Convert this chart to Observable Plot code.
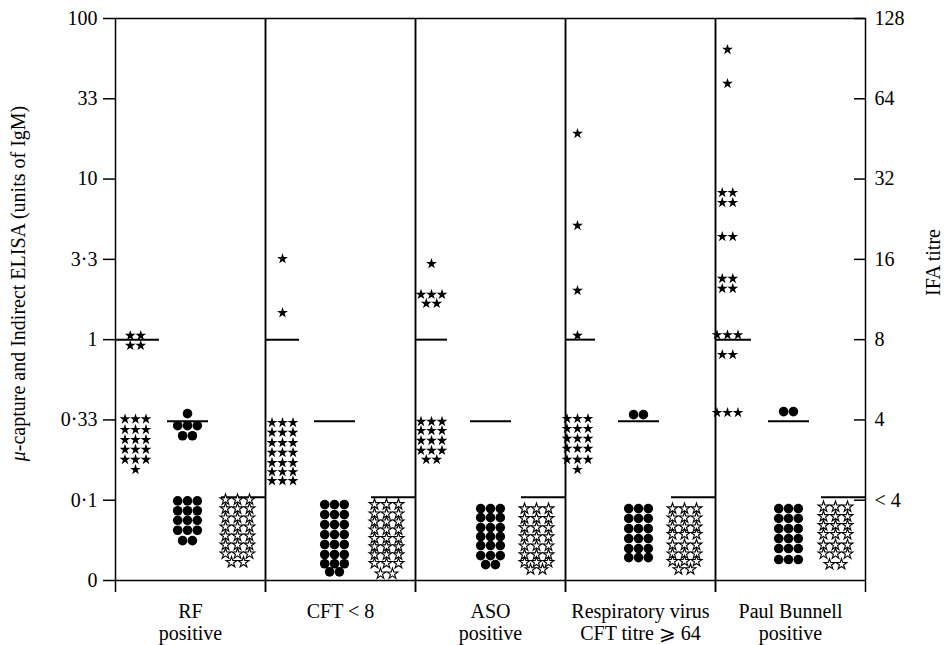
<!DOCTYPE html>
<html><head><meta charset="utf-8">
<script src="https://cdn.jsdelivr.net/npm/d3@7"></script>
<script src="https://cdn.jsdelivr.net/npm/@observablehq/plot@0.6"></script>
<style>body{margin:0;background:#fff;} svg{display:block}</style>
</head><body><div id="chart"></div>
<script>
// ---- categories ----
const panels = ["RF\npositive", "CFT < 8", "ASO\npositive", "Respiratory virus\nCFT titre ⩾ 64", "Paul Bunnell\npositive"];

// ---- axis ticks ----
const elisaTicks = [100, 10 ** 1.5, 10, 10 ** 0.5, 1, 10 ** -0.5, 0.1, 10 ** -1.5];
const elisaTickLabels = ["100", "33", "10", "3·3", "1", "0·33", "0·1", "0"];
const ifaTicks = [128, 64, 32, 16, 8, 4, 2];
const ifaTickLabels = ["128", "64", "32", "16", "8", "4", "< 4"];

// ---- cut-off levels ----
const muCutoff = 1;          // µ-capture ELISA (units of IgM)
const indirectCutoff = 0.31; // indirect ELISA (units of IgM)
const ifaCutoff = 2.05;      // IFA titre (<4 level)

// ---- µ-capture ELISA (filled stars): [value, number of sera] ----
const rfMu   = [[1.06, 2], [0.92, 2], [0.32, 3], [0.275, 3], [0.238, 3], [0.207, 3], [0.179, 3], [0.155, 1]];
const cftMu  = [[3.19, 1], [1.47, 1], [0.304, 3], [0.264, 3], [0.228, 3], [0.198, 3], [0.171, 3], [0.150, 3], [0.132, 3]];
const asoMu  = [[2.97, 1], [1.91, 3], [1.68, 2], [0.309, 3], [0.271, 3], [0.235, 3], [0.204, 3], [0.179, 2]];
const respMu = [[19.2, 1], [5.13, 1], [2.02, 1], [1.06, 1], [0.322, 3], [0.279, 3], [0.242, 3], [0.210, 3], [0.179, 3], [0.155, 1]];
const pbMu   = [[64, 1], [39.3, 1], [8.23, 2], [7.13, 2], [4.38, 2], [2.40, 2], [2.08, 2], [1.07, 3], [0.806, 2], [0.351, 3]];

// ---- indirect ELISA (filled circles): [value, number of sera] ----
const rfInd   = [[0.346, 1], [0.291, 3], [0.252, 2], [0.099, 3], [0.086, 3], [0.075, 3], [0.065, 3], [0.056, 2]];
const cftInd  = [[0.094, 3], [0.0814, 3], [0.0705, 3], [0.0611, 3], [0.053, 3], [0.0459, 3], [0.0402, 3], [0.0358, 2]];
const asoInd  = [[0.0887, 3], [0.0779, 3], [0.0675, 3], [0.0593, 3], [0.0522, 3], [0.0452, 3], [0.0397, 2]];
const respInd = [[0.341, 2], [0.0887, 3], [0.077, 3], [0.0665, 3], [0.0577, 3], [0.05, 3], [0.0439, 3]];
const pbInd   = [[0.356, 2], [0.0887, 3], [0.077, 3], [0.0665, 3], [0.0577, 3], [0.05, 3], [0.0427, 3]];

// ---- IFA titre (open stars): [titre, number of sera] ----
const rfIfa   = [[2.01, 3], [1.86, 3], [1.72, 3], [1.59, 3], [1.47, 3], [1.36, 3], [1.26, 3], [1.17, 2]];
const cftIfa  = [[1.93, 3], [1.78, 3], [1.66, 3], [1.55, 3], [1.44, 3], [1.34, 3], [1.25, 3], [1.16, 3], [1.06, 2]];
const asoIfa  = [[1.86, 3], [1.71, 3], [1.58, 3], [1.46, 3], [1.35, 3], [1.25, 3], [1.17, 3], [1.10, 2]];
const respIfa = [[1.86, 3], [1.72, 3], [1.59, 3], [1.49, 3], [1.36, 3], [1.26, 3], [1.18, 3], [1.10, 2]];
const pbIfa   = [[1.89, 3], [1.74, 3], [1.61, 3], [1.49, 3], [1.36, 3], [1.26, 3], [1.15, 2]];

// ---- build ----
const muRows = [rfMu, cftMu, asoMu, respMu, pbMu];
const indRows = [rfInd, cftInd, asoInd, respInd, pbInd];
const ifaRows = [rfIfa, cftIfa, asoIfa, respIfa, pbIfa];

// IFA titre -> position on the ELISA scale (128 ↔ 100, 8 ↔ 1, 2 ↔ 0·1)
const ifaToElisa = t => 10 ** ((Math.log2(t) - 3) / 2);

// layout of the dot columns inside each panel (x units: 0..15 per panel)
const layout = {
  mu:  {center: [2.0, 1.7, 1.6, 1.2, 1.2], step: 1.05},
  ind: {center: [7.2, 6.9, 7.5, 7.3, 7.3], step: 0.98},
  ifa: {center: [12.2, 12.1, 12.1, 11.9, 12.0], step: 1.2}
};
const muLineEnd = [4.4, 3.4, 3.2, 3.0, 3.6];

function expand(rowsByPanel, kind, toY) {
  const out = [];
  rowsByPanel.forEach((rows, p) => {
    const c = layout[kind].center[p], s = layout[kind].step;
    for (const [v, n] of rows) {
      for (let j = 0; j < n; j++) {
        out.push({panel: panels[p], x: c + (j - (n - 1) / 2) * s, y: toY(v)});
      }
    }
  });
  return out;
}
const muDots = expand(muRows, "mu", v => v);
const indDots = expand(indRows, "ind", v => v);
const ifaDots = expand(ifaRows, "ifa", ifaToElisa);

const cutLines = [];
panels.forEach((panel, p) => {
  cutLines.push({panel, y: muCutoff, x1: 0, x2: muLineEnd[p]});
  cutLines.push({panel, y: indirectCutoff, x1: layout.ind.center[p] - 2.0, x2: layout.ind.center[p] + 2.1});
  cutLines.push({panel, y: ifaToElisa(ifaCutoff), x1: 10.6, x2: 15});
});

const rightVals = ifaTicks.map(ifaToElisa);
const leftLabels = elisaTicks.map((v, i) => ({v, label: elisaTickLabels[i]}));
const rightLabels = rightVals.map((v, i) => ({v, label: ifaTickLabels[i]}));

const leftTitle = "μ-capture and Indirect ELISA (units of IgM)";
const rightTitle = "IFA titre";

const chart = Plot.plot({
  width: 945, height: 645,
  marginLeft: 115, marginRight: 80, marginTop: 18, marginBottom: 65,
  style: {fontFamily: '"Liberation Serif", "Times New Roman", serif', fontSize: "20px", color: "black", background: "white"},
  fx: {domain: panels, padding: 0, axis: null},
  x: {domain: [0, 15], axis: null},
  y: {type: "log", domain: [10 ** -1.5, 100], axis: null},
  marks: [
    Plot.ruleY([100, 10 ** -1.5], {stroke: "black", strokeWidth: 1.5}),
    Plot.ruleX([0, 15], {stroke: "black", strokeWidth: 1.5, insetBottom: -12}),
    Plot.ruleY(cutLines, {fx: "panel", y: "y", x1: "x1", x2: "x2", stroke: "black", strokeWidth: 2}),
    Plot.dot(muDots, {fx: "panel", x: "x", y: "y", symbol: "star", r: 3.4, fill: "black", stroke: "none"}),
    Plot.dot(indDots, {fx: "panel", x: "x", y: "y", symbol: "circle", r: 4.8, fill: "black", stroke: "none"}),
    Plot.dot(ifaDots, {fx: "panel", x: "x", y: "y", symbol: "star", r: 3.4, fill: "white", stroke: "black", strokeWidth: 1.1}),
    // axis ticks (labels drawn as text marks below)
    Plot.axisY({anchor: "left", ticks: elisaTicks, tickFormat: () => "", tickSize: 12, strokeWidth: 1.5, label: null}),
    Plot.axisY({anchor: "right", ticks: rightVals, tickFormat: () => "", tickSize: -12, strokeWidth: 1.5, label: null}),
    Plot.text(leftLabels, {fx: () => panels[0], y: "v", text: "label", frameAnchor: "left", textAnchor: "end", dx: -18, fontSize: 20}),
    Plot.text(rightLabels, {fx: () => panels[4], y: "v", text: "label", frameAnchor: "right", textAnchor: "start", dx: 9, fontSize: 20}),
    Plot.axisFx({anchor: "bottom", tickSize: 0, tickPadding: 22, lineHeight: 1.1, fontSize: 20, label: null}),
    Plot.text([leftTitle], {fx: () => panels[0], frameAnchor: "left", textAnchor: "middle", text: d => d, rotate: -90, dx: -97, dy: -16, fontSize: 20}),
    Plot.text([rightTitle], {fx: () => panels[4], frameAnchor: "right", textAnchor: "middle", text: d => d, rotate: -90, dx: 68, dy: -37, fontSize: 20})
  ]
});
document.getElementById("chart").appendChild(chart);

// italic µ in the left axis title
for (const t of chart.querySelectorAll("text")) {
  if (t.textContent === leftTitle) {
    t.innerHTML = '<tspan font-style="italic">μ</tspan>-capture and Indirect ELISA (units of IgM)';
  }
}
</script>
</body></html>
